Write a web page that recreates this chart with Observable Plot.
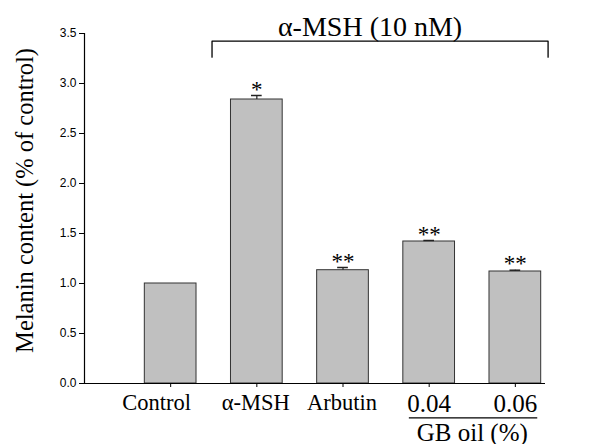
<!DOCTYPE html>
<html><head><meta charset="utf-8">
<script src="https://cdn.jsdelivr.net/npm/d3@7"></script>
<script src="https://cdn.jsdelivr.net/npm/@observablehq/plot@0.6"></script>
<style>body{margin:0;background:#fff} svg{display:block}</style>
</head><body><div id="chart"></div>
<script>
const categories = ["Control", "α-MSH", "Arbutin", "0.04", "0.06"];
const means = [1.00, 2.84, 1.133, 1.42, 1.12];
const errors = [0, 0.04, 0.027, 0.01, 0.013];
const stars = ["", "*", "**", "**", "**"];
const yTicks = [0, 0.5, 1.0, 1.5, 2.0, 2.5, 3.0, 3.5];
const yLabel = "Melanin content (% of control)";
const treatmentLabel = "α-MSH (10 nM)";
const treatedMembers = ["α-MSH", "Arbutin", "0.04", "0.06"];
const groupLabel = "GB oil (%)";
const groupMembers = ["0.04", "0.06"];

const rows = categories.map((c, i) => ({i, category: c, mean: means[i], err: errors[i], star: stars[i], top: means[i] + errors[i]}));
const withErr = rows.filter(d => d.err > 0);
const gFirst = categories.indexOf(groupMembers[0]);
const gLast = categories.indexOf(groupMembers[groupMembers.length - 1]);
const tFirst = categories.indexOf(treatedMembers[0]);
const tLast = categories.indexOf(treatedMembers[treatedMembers.length - 1]);
const bx1 = tFirst - 0.52, bx2 = tLast + 0.38;
const serif = "Liberation Serif";
const sans = "Liberation Sans";

const chart = Plot.plot({
  width: 589, height: 444,
  marginLeft: 84, marginRight: 44, marginTop: 33, marginBottom: 61,
  x: {domain: [-1, 4.35]},
  y: {domain: [0, 3.5]},
  style: {fontFamily: serif, color: "black", background: "white"},
  marks: [
    Plot.rect(rows, {x1: d => d.i - 0.3, x2: d => d.i + 0.3, y1: 0, y2: "mean", fill: "#c0c0c0", stroke: "#333", strokeWidth: 1}),
    Plot.ruleX(withErr, {x: "i", y1: "mean", y2: "top", stroke: "#222", strokeWidth: 1.2}),
    Plot.ruleY(withErr, {y: "top", x1: d => d.i - 0.062, x2: d => d.i + 0.062, stroke: "#222", strokeWidth: 1.5}),
    Plot.text(rows, {x: "i", y: "top", text: "star", lineAnchor: "bottom", fontSize: 23, dy: 1, fontFamily: serif}),
    Plot.ruleY([0], {stroke: "black", strokeWidth: 1.2}),
    Plot.ruleX([-1], {stroke: "black", strokeWidth: 1.2}),
    Plot.axisY(yTicks, {tickSize: 5, tickPadding: 3, tickFormat: d3.format(".1f"), fontSize: 12, fontFamily: sans, label: null}),
    Plot.axisX(d3.range(categories.length), {tickSize: 4, tickFormat: () => "", label: null}),
    Plot.text(rows.filter(d => d.i === 0), {x: "i", y: () => 0, text: "category", lineAnchor: "bottom", dy: 26, dx: -14, fontSize: 22.5, fontFamily: serif}),
    Plot.text(rows.filter(d => d.i > 0 && !groupMembers.includes(d.category)), {x: "i", y: () => 0, text: "category", lineAnchor: "bottom", dy: 26, dx: -1, fontSize: 22.5, fontFamily: serif}),
    Plot.text(rows.filter(d => groupMembers.includes(d.category)), {x: "i", y: () => 0, text: "category", lineAnchor: "bottom", dy: 28.4, fontSize: 25, fontFamily: serif}),
    Plot.ruleY([0], {x1: () => gFirst - 0.23, x2: () => gLast + 0.26, dy: 34.4, stroke: "black", strokeWidth: 1.2}),
    Plot.text([groupLabel], {x: () => (gFirst + gLast) / 2, y: () => 0, text: d => d, lineAnchor: "bottom", dy: 57, fontSize: 25, fontFamily: serif}),
    Plot.line([[bx1, 3.263], [bx1, 3.423], [bx2, 3.423], [bx2, 3.263]], {stroke: "black", strokeWidth: 1.3}),
    Plot.text([treatmentLabel], {x: () => (bx1 + bx2) / 2, y: () => 3.5, text: d => d, lineAnchor: "bottom", dy: 2, dx: -10, fontSize: 28, fontFamily: serif}),
    Plot.text([yLabel], {frameAnchor: "left", text: d => d, rotate: -90, lineAnchor: "bottom", textAnchor: "middle", dx: -52, dy: -8, fontSize: 24.5, fontFamily: serif})
  ]
});
document.getElementById("chart").appendChild(chart);
</script>
</body></html>
